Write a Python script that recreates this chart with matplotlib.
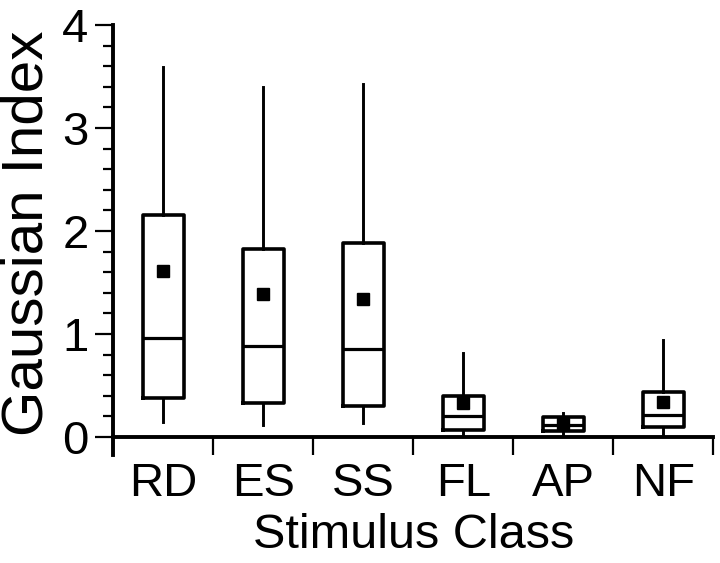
import matplotlib
matplotlib.use('Agg')
import matplotlib.pyplot as plt
import numpy as np

plt.rcParams['font.family'] = ['Liberation Sans', 'DejaVu Sans']

# valores
classes = ['RD', 'ES', 'SS', 'FL', 'AP', 'NF']
whisk_lo = [0.15, 0.12, 0.14, 0.03, 0.03, 0.03]
q1 = [0.38, 0.33, 0.30, 0.07, 0.06, 0.10]
medianas = [0.96, 0.88, 0.85, 0.20, 0.12, 0.21]
q3 = [2.155, 1.825, 1.88, 0.40, 0.19, 0.44]
whisk_hi = [3.59, 3.40, 3.43, 0.82, 0.23, 0.94]
medias = [1.61, 1.39, 1.34, 0.33, 0.13, 0.34]

stats = []
for i in range(len(classes)):
    stats.append(dict(label=classes[i], whislo=whisk_lo[i], q1=q1[i], med=medianas[i],
                      q3=q3[i], whishi=whisk_hi[i], mean=medias[i]))

fig = plt.figure(figsize=(7.2, 5.63), dpi=100)
ax = fig.add_axes([0.1576, 0.1918, 0.8333, 0.7638])

pos = np.arange(len(classes)) + 0.5
ax.bxp(stats, positions=pos, widths=0.41, showmeans=True, showcaps=False,
       showfliers=False, manage_ticks=False,
       boxprops=dict(color='black', linewidth=2.6),
       medianprops=dict(color='black', linewidth=2.3),
       whiskerprops=dict(color='black', linewidth=2.1),
       meanprops=dict(marker='s', markerfacecolor='black', markeredgecolor='black',
                      markersize=8))

ax.set_xlim(0, 6)
ax.set_ylim(-0.175, 4)

# eixo x: ticks nos limites das classes, rotulos no meio
ax.set_xticks(range(7))
ax.set_xticklabels([])
ax.set_xticks(pos, minor=True)
ax.set_xticklabels(classes, minor=True)
ax.tick_params(axis='x', which='major', direction='out', length=13, width=1.6)
ax.tick_params(axis='x', which='minor', length=0, pad=18, labelsize=34)

# eixo y
ax.set_yticks(range(5))
ax.set_yticks(np.arange(0, 4.01, 0.2), minor=True)
ax.tick_params(axis='y', which='major', length=13, width=1.6, pad=5, labelsize=34)
ax.tick_params(axis='y', which='minor', length=7, width=1.6)

ax.spines['top'].set_visible(False)
ax.spines['right'].set_visible(False)
ax.spines['bottom'].set_position(('data', 0))
ax.spines['bottom'].set_linewidth(2.8)
ax.spines['left'].set_linewidth(2.8)

ax.set_xlabel('Stimulus Class', fontsize=35, labelpad=5)
ax.set_ylabel('Gaussian Index', fontsize=42)
ax.yaxis.set_label_coords(-0.098, 0.516)

fig.savefig('out.png', dpi=100)
